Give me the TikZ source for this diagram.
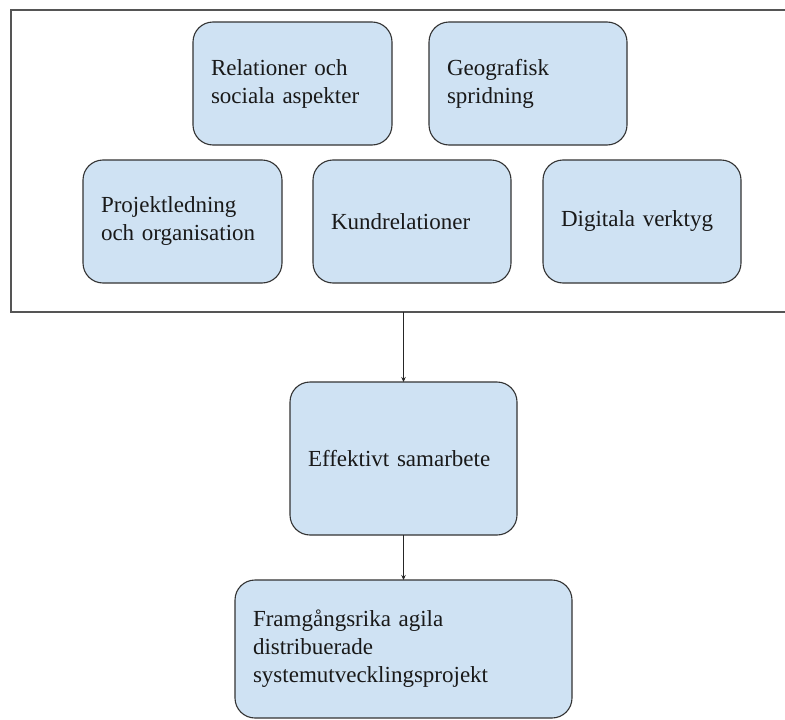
\documentclass[tikz,border=0pt]{standalone}
\usepackage{fontspec}
\setmainfont{Liberation Serif}
\usetikzlibrary{arrows.meta}
\definecolor{boxblue}{HTML}{CFE2F3}
\definecolor{edgegray}{HTML}{333333}
\definecolor{framegray}{HTML}{555555}
\tikzset{
  box/.style={draw=edgegray, fill=boxblue, rounded corners=20pt, line width=1.1pt,
    align=left, inner xsep=18pt, inner ysep=0pt, outer sep=0pt,
    font=\fontsize{23}{28}\selectfont, text=black!90},
  frameline/.style={draw=framegray, line width=1.8pt},
  conn/.style={draw=black!85, line width=1pt, -{Stealth[length=5pt,width=4.5pt]}}
}
\begin{document}
\begin{tikzpicture}[x=1pt,y=-1pt]
\useasboundingbox (0,0) rectangle (785,720);
\clip (0,0) rectangle (785,720);
\node[frameline, minimum width=789pt, minimum height=302pt, inner sep=0pt, outer sep=0pt] (frame) at (405.5,161) {};
\node[box, text width=163pt, minimum height=123pt] (rel) at (292.5,83.5) {Relationer och\\sociala aspekter};
\node[box, text width=162pt, minimum height=123pt] (geo) at (528,83.5) {Geografisk\\spridning};
\node[box, text width=163pt, minimum height=123pt] (proj) at (182.5,221.5) {Projektledning\\och organisation};
\node[box, text width=162pt, minimum height=123pt] (kund) at (412,221.5) {Kundrelationer};
\node[box, text width=162pt, minimum height=123pt] (dig) at (642,221.5) {Digitala verktyg};
\node[box, text width=191pt, minimum height=153pt] (eff) at (403.5,458.5) {Effektivt samarbete};
\node[box, text width=301pt, minimum height=138pt] (fram) at (403.5,649) {Framgångsrika agila\\distribuerade\\systemutvecklingsprojekt};
\draw[conn] (eff.north |- frame.south) -- (eff.north);
\draw[conn] (eff.south) -- (fram.north);
\end{tikzpicture}
\end{document}
